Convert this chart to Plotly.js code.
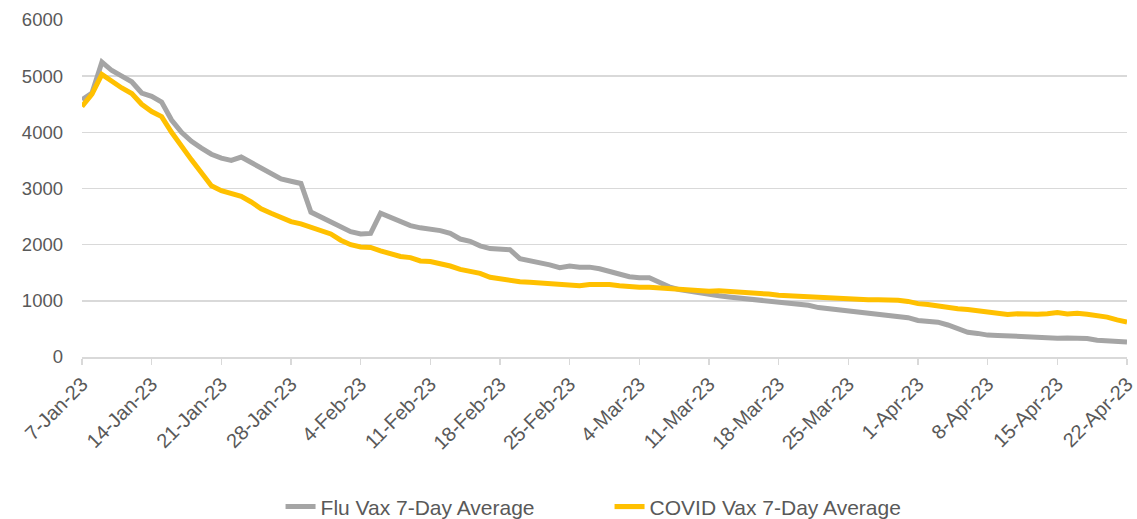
<!DOCTYPE html>
<html>
<head>
<meta charset="utf-8">
<script src="https://cdn.plot.ly/plotly-3.0.1.min.js"></script>
<style>
html,body{margin:0;padding:0;background:#fff;}
#chart{width:1137px;height:519px;}
</style>
</head>
<body>
<div id="chart"></div>
<script>
// Daily dates: 7-Jan-23 through 22-Apr-23
const startDate = "2023-01-07";
const dayCount = 106;

const fluVax = [
  4580, 4700, 5250, 5100, 5000, 4900, 4700, 4640, 4540, 4220,
  4000, 3840, 3720, 3610, 3540, 3500, 3560, 3460, 3350, 3250,
  3170, 3130, 3090, 2580, 2490, 2400, 2310, 2230, 2190, 2200,
  2560, 2490, 2410, 2340, 2300, 2280, 2250, 2200, 2100, 2060,
  1980, 1930, 1910, 1910, 1750, 1720, 1670, 1640, 1590, 1620,
  1600, 1600, 1570, 1520, 1460, 1430, 1410, 1410, 1330, 1250,
  1200, 1170, 1130, 1100, 1090, 1070, 1050, 1040, 1030, 1000,
  970, 960, 950, 920, 880, 860, 840, 810, 790, 790,
  770, 750, 730, 700, 650, 640, 620, 570, 500, 440,
  420, 390, 385, 375, 360, 360, 355, 335, 335, 340,
  340, 330, 300, 285, 275, 265
];

const covidVax = [
  4460, 4680, 5030, 4900, 4790, 4690, 4500, 4370, 4280, 4000,
  3740, 3510, 3280, 3050, 2960, 2910, 2860, 2760, 2640, 2560,
  2480, 2410, 2370, 2310, 2250, 2190, 2080, 2000, 1960, 1950,
  1890, 1840, 1790, 1770, 1710, 1700, 1670, 1620, 1560, 1520,
  1490, 1420, 1390, 1380, 1340, 1330, 1320, 1310, 1300, 1300,
  1270, 1290, 1300, 1290, 1270, 1250, 1240, 1240, 1230, 1200,
  1200, 1190, 1180, 1170, 1180, 1170, 1160, 1160, 1150, 1120,
  1100, 1090, 1090, 1070, 1050, 1040, 1030, 1020, 1020, 1020,
  1020, 1020, 1010, 990, 950, 935, 905, 885, 860, 845,
  820, 790, 760, 755, 770, 760, 760, 770, 790, 765,
  780, 760, 740, 710, 660, 620
];

const tickDates = [
  "2023-01-07","2023-01-14","2023-01-21","2023-01-28","2023-02-04","2023-02-11",
  "2023-02-18","2023-02-25","2023-03-04","2023-03-11","2023-03-18","2023-03-25",
  "2023-04-01","2023-04-08","2023-04-15","2023-04-22"
];
const tickLabels = [
  "7-Jan-23","14-Jan-23","21-Jan-23","28-Jan-23","4-Feb-23","11-Feb-23",
  "18-Feb-23","25-Feb-23","4-Mar-23","11-Mar-23","18-Mar-23","25-Mar-23",
  "1-Apr-23","8-Apr-23","15-Apr-23","22-Apr-23"
];
const seriesNames = ["Flu Vax 7-Day Average", "COVID Vax 7-Day Average"];

const dates = [];
const base = new Date(startDate + "T00:00:00Z");
for (let i = 0; i < dayCount; i++) {
  const d = new Date(base.getTime() + i * 86400000);
  dates.push(d.toISOString().slice(0, 10));
}

const font = "'Liberation Sans', Arial, sans-serif";
const textColor = "#595959";
const gridColor = "#d9d9d9";

const traces = [
  {x: dates, y: fluVax, name: seriesNames[0], type: "scatter", mode: "lines",
   line: {color: "#A5A5A5", width: 5}, hoverinfo: "skip"},
  {x: dates, y: covidVax, name: seriesNames[1], type: "scatter", mode: "lines",
   line: {color: "#FFC000", width: 5}, hoverinfo: "skip"}
];

const layout = {
  width: 1137, height: 519,
  margin: {l: 82, r: 10, t: 20, b: 162, autoexpand: false},
  paper_bgcolor: "#fff", plot_bgcolor: "#fff",
  font: {family: font, color: textColor, size: 16},
  showlegend: true,
  legend: {orientation: "h", x: 0.19, xanchor: "left", y: -0.445, yanchor: "middle",
           font: {size: 21, color: textColor}, entrywidth: 284, entrywidthmode: "pixels",
           traceorder: "normal"},
  xaxis: {
    type: "date",
    range: ["2023-01-07", "2023-04-22"],
    tickvals: tickDates, ticktext: tickLabels,
    tickangle: -45,
    tickfont: {size: 20, color: textColor},
    ticks: "outside", ticklen: 6, tickcolor: gridColor, tickwidth: 1.5,
    showline: true, linecolor: gridColor, linewidth: 1.5,
    showgrid: false, zeroline: false, fixedrange: true, automargin: false
  },
  yaxis: {
    range: [0, 6000], dtick: 1000, tick0: 0,
    tickfont: {size: 18.5, color: textColor},
    showgrid: true, gridcolor: gridColor, gridwidth: 1.5,
    zeroline: false, showline: false, ticks: "",
    ticklabelstandoff: 18, fixedrange: true, automargin: false
  }
};

Plotly.newPlot("chart", traces, layout, {displayModeBar: false, staticPlot: true});
</script>
</body>
</html>
